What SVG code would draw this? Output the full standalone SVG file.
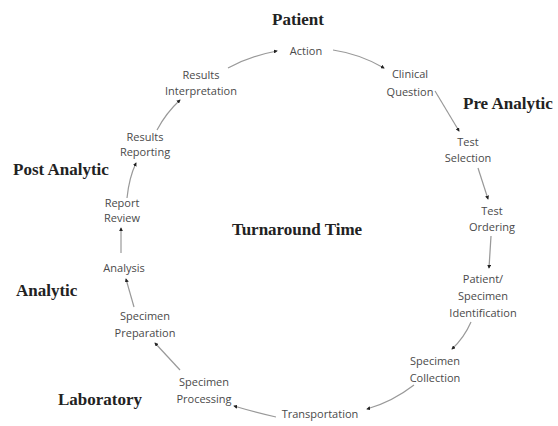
<svg xmlns="http://www.w3.org/2000/svg" width="558" height="426" viewBox="0 0 558 426">
<style>
.n{font-family:"Open Sans","Liberation Sans",sans-serif;font-size:11px;fill:#4a4a4a;text-anchor:middle}
.h{font-family:"Liberation Serif","DejaVu Serif",serif;font-size:17px;font-weight:bold;fill:#222}
.c{fill:none;stroke:#999;stroke-width:1.2;marker-end:url(#a)}
</style>
<defs>
<marker id="a" viewBox="0 0 10 10" refX="8" refY="5" markerWidth="4" markerHeight="4" orient="auto" markerUnits="userSpaceOnUse">
<path d="M0,0 L10,5 L0,10 z" fill="#222"/>
</marker>
</defs>
<rect width="558" height="426" fill="#fff"/>
<g id="labels">
<text class="h" x="298" y="25" text-anchor="middle">Patient</text>
<text class="h" x="463" y="109">Pre Analytic</text>
<text class="h" x="13" y="175">Post Analytic</text>
<text class="h" x="16" y="296">Analytic</text>
<text class="h" x="58" y="405">Laboratory</text>
<text class="h" x="297" y="235" text-anchor="middle">Turnaround Time</text>
</g>
<g id="connectors">
<path class="c" d="M228,68 Q250,56 277,51"/>
<path class="c" d="M333,50 Q360,54 384,68"/>
<path class="c" d="M435,91 L459,131"/>
<path class="c" d="M478,168 L488,199"/>
<path class="c" d="M491,236 L489,268"/>
<path class="c" d="M471,322 Q464,338 452,349"/>
<path class="c" d="M414,385 Q392,402 367,409"/>
<path class="c" d="M276,417 Q254,412 234,406"/>
<path class="c" d="M180,370 L155,343"/>
<path class="c" d="M134,307 L126,279"/>
<path class="c" d="M121,253 L121,228"/>
<path class="c" d="M127,198 Q129,178 136,163"/>
<path class="c" d="M157,130 Q166,113 180,100"/>
</g>
<g id="n-action"><text class="n" x="306" y="55">Action</text></g>
<g id="n-clinical"><text class="n" x="410" y="78">Clinical</text><text class="n" x="410" y="96">Question</text></g>
<g id="n-testsel"><text class="n" x="468" y="146">Test</text><text class="n" x="468" y="162">Selection</text></g>
<g id="n-testord"><text class="n" x="492" y="215">Test</text><text class="n" x="492" y="231">Ordering</text></g>
<g id="n-patid"><text class="n" x="483" y="283">Patient/</text><text class="n" x="483" y="300">Specimen</text><text class="n" x="483" y="317">Identification</text></g>
<g id="n-collection"><text class="n" x="435" y="365">Specimen</text><text class="n" x="435" y="382">Collection</text></g>
<g id="n-transport"><text class="n" x="320" y="418">Transportation</text></g>
<g id="n-processing"><text class="n" x="204" y="386">Specimen</text><text class="n" x="204" y="403">Processing</text></g>
<g id="n-preparation"><text class="n" x="145" y="320">Specimen</text><text class="n" x="145" y="337">Preparation</text></g>
<g id="n-analysis"><text class="n" x="124" y="272">Analysis</text></g>
<g id="n-review"><text class="n" x="122" y="207">Report</text><text class="n" x="122" y="222">Review</text></g>
<g id="n-reporting"><text class="n" x="145" y="141">Results</text><text class="n" x="145" y="156">Reporting</text></g>
<g id="n-interp"><text class="n" x="201" y="79">Results</text><text class="n" x="201" y="95">Interpretation</text></g>
</svg>
